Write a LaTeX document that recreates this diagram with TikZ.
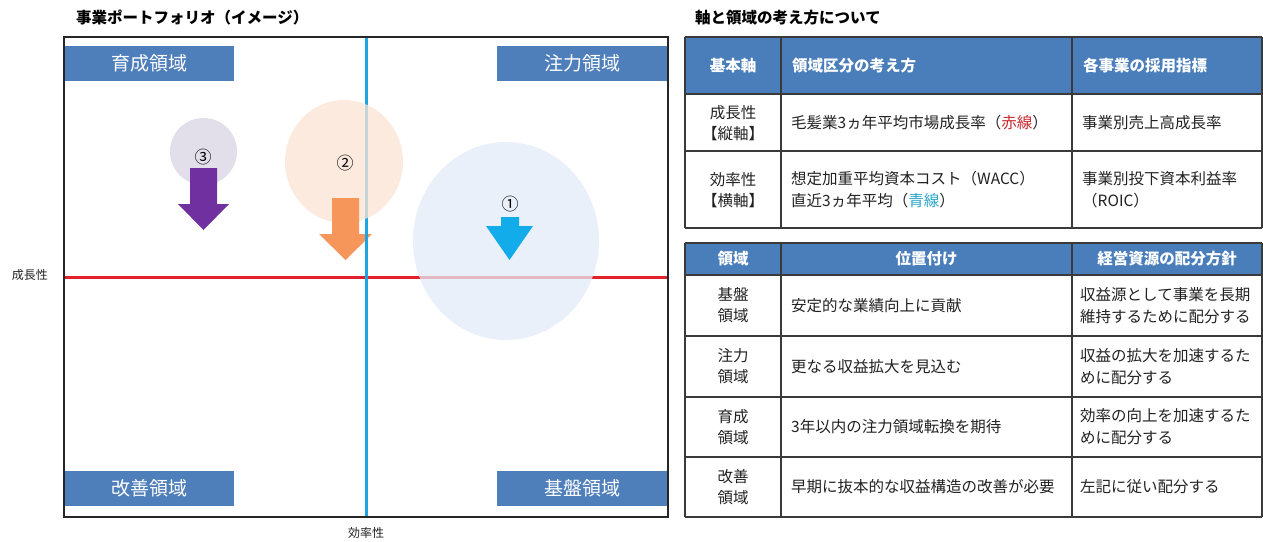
\documentclass[tikz,border=0pt]{standalone}
\usepackage{fontspec}
\setmainfont{Noto Sans CJK JP}
\usetikzlibrary{shapes.geometric}
\definecolor{hblue}{HTML}{4A7EBB}
\definecolor{zblue}{HTML}{4F7FBB}
\definecolor{redln}{HTML}{E0202A}
\definecolor{blueln}{HTML}{1EA5E0}
\definecolor{cpurple}{HTML}{D9D3E3}
\definecolor{cpeach}{HTML}{FCE4D4}
\definecolor{clblue}{HTML}{E3ECF7}
\definecolor{apurple}{HTML}{7030A0}
\definecolor{aorange}{HTML}{F7965A}
\definecolor{acyan}{HTML}{12ACEA}
\definecolor{gridc}{HTML}{3A3A3A}
\definecolor{txt}{HTML}{222222}
\definecolor{redtxt}{HTML}{C8282E}
\definecolor{bluetxt}{HTML}{2AA6CC}
\tikzset{
  zonebox/.style={fill=zblue, text=white, minimum width=170pt, minimum height=35pt, inner sep=0pt, font=\fontsize{19}{19}\selectfont},
  ptitle/.style={anchor=west, inner sep=0pt, font=\bfseries\fontsize{15.5}{16}\selectfont, text=black},
  hdr/.style={inner sep=0pt, text=white, font=\bfseries\fontsize{15.5}{16}\selectfont},
  cell/.style={inner sep=0pt, text=txt, font=\fontsize{15.5}{22}\selectfont, align=left},
  ccell/.style={inner sep=0pt, text=txt, font=\fontsize{15.5}{21}\selectfont, align=center},
  grid/.style={draw=gridc, line width=1.6pt},
  axislbl/.style={inner sep=0pt, text=txt, font=\fontsize{12}{12}\selectfont},
  numlbl/.style={inner sep=0pt, text=black, font=\fontsize{17}{17}\selectfont},
  bubble/.style={ellipse, draw=none, inner sep=0pt, fill opacity=0.75},
  bline/.style={blueln, line width=3pt},
}
\begin{document}
\begin{tikzpicture}[x=1pt,y=-1pt]
\useasboundingbox (0,0) rectangle (1263,541);
\fill[white] (0,0) rectangle (1263,541);

% ---------- left panel ----------
\node[ptitle] (t1) at (76,18) {事業ポートフォリオ（イメージ）};

% axes
\coordinate (hl) at (64,277);
\coordinate (hr) at (668,277);
\coordinate (vt) at (366,37);
\coordinate (vb) at (366,517);
\draw[redln, line width=3pt] (hl) -- (hr);
\draw[bline] (vt) -- (vb);

% bubbles
\node[bubble, fill=cpurple, minimum width=67pt, minimum height=67pt] (b3) at (203.5,151.5) {};
\node[bubble, fill=cpeach, minimum width=118pt, minimum height=123pt] (b2) at (344,161.5) {};
\node[bubble, fill=clblue, minimum width=186pt, minimum height=198pt] (b1) at (506,241) {};

% arrows
\fill[apurple] (190,168) -- (217,168) -- (217,204) -- (229,204) -- (203.5,230) -- (178,204) -- (190,204) -- cycle;
\fill[aorange] (332,198) -- (359,198) -- (359,234) -- (372,234) -- (345.5,260) -- (319,234) -- (332,234) -- cycle;
\begin{scope}
  \clip (359,225) rectangle (380,262);
  \draw[bline] (vt) -- (vb);
\end{scope}
\fill[acyan] (501,217) -- (519,217) -- (519,226) -- (533,226) -- (509.5,260) -- (486,226) -- (501,226) -- cycle;

\node[numlbl] (n3) at (203,157) {③};
\node[numlbl] (n2) at (345,163) {②};
\node[numlbl] (n1) at (510,204) {①};

% zone boxes
\node[zonebox] (z1) at (149,63.5) {育成領域};
\node[zonebox] (z2) at (582,63.5) {注力領域};
\node[zonebox] (z3) at (149,488.5) {改善領域};
\node[zonebox] (z4) at (582,488.5) {基盤領域};

% frame
\draw[black!85, line width=2pt] (64,37) rectangle (668,517);

\node[axislbl] (ly) at (30,275) {成長性};
\node[axislbl] (lx) at (366,533) {効率性};

% ---------- right panel ----------
\node[ptitle] (t2) at (695,18) {軸と領域の考え方について};

% table 1
\fill[hblue] (685,37) rectangle (1262,94);
\foreach \y in {37,94,151,228} \draw[grid] (685,\y) -- (1262,\y);
\foreach \x in {685,781,1072,1262} \draw[grid] (\x,37) -- (\x,228);

\node[hdr] (h11) at (733,66) {基本軸};
\node[hdr, anchor=west] (h12) at (792,66) {領域区分の考え方};
\node[hdr, anchor=west] (h13) at (1083,66) {各事業の採用指標};

\node[ccell] (c21) at (733,123) {成長性\\【縦軸】};
\node[cell, anchor=west] (c22) at (791,123) {毛髪業3ヵ年平均市場成長率（\textcolor{redtxt}{赤線}）};
\node[cell, anchor=west] (c23) at (1082,123) {事業別売上高成長率};

\node[ccell] (c31) at (733,190) {効率性\\【横軸】};
\node[cell, anchor=west] (c32) at (791,190) {想定加重平均資本コスト（WACC）\\直近3ヵ年平均（\textcolor{bluetxt}{青線}）};
\node[cell, anchor=west] (c33) at (1082,190) {事業別投下資本利益率\\（ROIC）};

% table 2
\fill[hblue] (685,243) rectangle (1262,275);
\foreach \y in {243,275,336,397,457,517} \draw[grid] (685,\y) -- (1262,\y);
\foreach \x in {685,781,1072,1262} \draw[grid] (\x,243) -- (\x,517);

\node[hdr] (g11) at (733,259) {領域};
\node[hdr] (g12) at (926.5,259) {位置付け};
\node[hdr] (g13) at (1167,259) {経営資源の配分方針};

\node[ccell] (g21) at (733,305.5) {基盤\\領域};
\node[cell, anchor=west] (g22) at (791,305.5) {安定的な業績向上に貢献};
\node[cell, anchor=west] (g23) at (1080,305.5) {収益源として事業を長期\\維持するために配分する};

\node[ccell] (g31) at (733,366.5) {注力\\領域};
\node[cell, anchor=west] (g32) at (791,366.5) {更なる収益拡大を見込む};
\node[cell, anchor=west] (g33) at (1080,366.5) {収益の拡大を加速するた\\めに配分する};

\node[ccell] (g41) at (733,427) {育成\\領域};
\node[cell, anchor=west] (g42) at (791,427) {3年以内の注力領域転換を期待};
\node[cell, anchor=west] (g43) at (1080,427) {効率の向上を加速するた\\めに配分する};

\node[ccell] (g51) at (733,487) {改善\\領域};
\node[cell, anchor=west] (g52) at (791,487) {早期に抜本的な収益構造の改善が必要};
\node[cell, anchor=west] (g53) at (1080,487) {左記に従い配分する};

\end{tikzpicture}
\end{document}
